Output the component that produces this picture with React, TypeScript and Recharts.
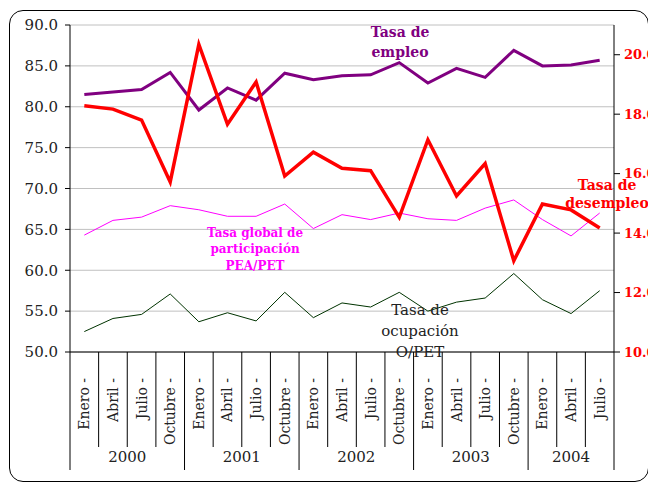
import { CartesianGrid, Line, LineChart, XAxis, YAxis } from "recharts";

const months = [
  "Enero -", "Abril -", "Julio -", "Octubre -",
  "Enero -", "Abril -", "Julio -", "Octubre -",
  "Enero -", "Abril -", "Julio -", "Octubre -",
  "Enero -", "Abril -", "Julio -", "Octubre -",
  "Enero -", "Abril -", "Julio -",
];
const years = [
  "2000", "2000", "2000", "2000",
  "2001", "2001", "2001", "2001",
  "2002", "2002", "2002", "2002",
  "2003", "2003", "2003", "2003",
  "2004", "2004", "2004",
];

// tasa de empleo (eje izquierdo)
const empleo = [81.5, 81.8, 82.1, 84.2, 79.6, 82.3, 80.8, 84.1, 83.3, 83.8, 83.9, 85.4, 82.9, 84.7, 83.6, 86.9, 85.0, 85.1, 85.7];
// tasa de desempleo (eje derecho)
const desempleo = [18.28, 18.17, 17.8, 15.72, 20.35, 17.66, 19.08, 15.92, 16.72, 16.18, 16.1, 14.53, 17.14, 15.25, 16.34, 13.07, 14.98, 14.78, 14.17];
// PEA/PET
const participacion = [64.3, 66.1, 66.5, 67.9, 67.4, 66.6, 66.6, 68.1, 65.1, 66.8, 66.2, 67.0, 66.3, 66.1, 67.6, 68.6, 66.2, 64.2, 67.0];
// O/PET
const ocupacion = [52.5, 54.1, 54.6, 57.1, 53.7, 54.8, 53.8, 57.3, 54.2, 56.0, 55.5, 57.3, 55.0, 56.1, 56.6, 59.6, 56.4, 54.7, 57.5];

const leftTicks = [50, 55, 60, 65, 70, 75, 80, 85, 90];
const rightTicks = [10, 12, 14, 16, 18, 20];

const data = months.map((month, i) => ({
  key: `${month}${years[i]}`,
  month,
  year: years[i],
  empleo: empleo[i],
  desempleo: desempleo[i],
  participacion: participacion[i],
  ocupacion: ocupacion[i],
}));

const font = "'DejaVu Serif', serif";

const MonthTick = (props: any) => {
  const { x, y, payload } = props;
  const i = payload.index;
  const half = payload.offset || 14.3;
  const row = data[i];
  const first = i === 0 || years[i - 1] !== years[i];
  const last = i === data.length - 1;
  const count = years.filter((yy) => yy === row.year).length;
  return (
    <g>
      <line x1={x - half} x2={x - half} y1={y} y2={first ? y + 118 : y + 95} stroke="#000" />
      {last && <line x1={x + half} x2={x + half} y1={y} y2={y + 118} stroke="#000" />}
      <text
        transform={`translate(${x},${y + 26}) rotate(-90)`}
        textAnchor="end"
        dominantBaseline="central"
        fontSize={14}
        fill="#222"
        fontFamily={font}
      >
        {row.month}
      </text>
      {first && (
        <text
          x={x - half + count * half}
          y={y + 105}
          textAnchor="middle"
          dominantBaseline="central"
          fontSize={15}
          fill="#222"
          fontFamily={font}
        >
          {row.year}
        </text>
      )}
    </g>
  );
};

export default function App() {
  return (
    <div style={{ position: "absolute", left: 0, top: 0, width: 648, height: 482, background: "#fff", overflow: "hidden" }}>
      <div
        style={{
          position: "absolute",
          left: 9,
          top: 10,
          width: 640,
          height: 472,
          border: "1.5px solid #000",
          borderRadius: 14,
          boxSizing: "border-box",
        }}
      />
      <LineChart
        width={648}
        height={482}
        data={data}
        margin={{ top: 25, right: 0, bottom: 0, left: 10 }}
        style={{ position: "absolute", left: 0, top: 0, fontFamily: font }}
      >
        <CartesianGrid yAxisId="left" vertical={false} stroke="#c0c0c0" />
        <XAxis
          dataKey="key"
          scale="band"
          interval={0}
          height={130}
          tickSize={0}
          tickMargin={0}
          tickLine={false}
          axisLine={{ stroke: "#000" }}
          tick={<MonthTick />}
        />
        <YAxis
          yAxisId="left"
          domain={[50, 90]}
          ticks={leftTicks}
          width={60}
          tickSize={5}
          tickMargin={7}
          axisLine={{ stroke: "#000" }}
          tickLine={{ stroke: "#000" }}
          tickFormatter={(v: number) => v.toFixed(1)}
          tick={{ fill: "#222", fontSize: 15, fontFamily: font }}
        />
        <YAxis
          yAxisId="right"
          orientation="right"
          domain={[10, 21]}
          ticks={rightTicks}
          allowDataOverflow
          width={34}
          tickSize={6}
          tickMargin={4}
          axisLine={{ stroke: "#000" }}
          tickLine={{ stroke: "#000" }}
          tickFormatter={(v: number) => v.toFixed(1)}
          tick={{ fill: "#ff0000", fontSize: 13, fontWeight: "bold", fontFamily: font, textAnchor: "start" }}
        />
        <Line yAxisId="left" dataKey="ocupacion" stroke="#003300" strokeWidth={1} dot={false} isAnimationActive={false} />
        <Line yAxisId="left" dataKey="participacion" stroke="#ff00ff" strokeWidth={1} dot={false} isAnimationActive={false} />
        <Line yAxisId="left" dataKey="empleo" stroke="#800080" strokeWidth={3} dot={false} isAnimationActive={false} />
        <Line yAxisId="right" dataKey="desempleo" stroke="#ff0000" strokeWidth={3.5} dot={false} isAnimationActive={false} />
      </LineChart>
      <svg width={648} height={482} style={{ position: "absolute", left: 0, top: 0, pointerEvents: "none" }}>
        <g fontFamily={font} textAnchor="middle" dominantBaseline="central">
          <text x={400} y={32} fontSize={14} fontWeight="bold" fill="#800080">Tasa de</text>
          <text x={400} y={52} fontSize={14} fontWeight="bold" fill="#800080">empleo</text>
          <text x={255} y={233} fontSize={12} fontWeight="bold" fill="#ff00ff">Tasa global de</text>
          <text x={255} y={249} fontSize={12} fontWeight="bold" fill="#ff00ff">participación</text>
          <text x={255} y={266} fontSize={12} fontWeight="bold" fill="#ff00ff">PEA/PET</text>
          <text x={420} y={310} fontSize={15} fill="#222">Tasa de</text>
          <text x={420} y={331} fontSize={15} fill="#222">ocupación</text>
          <text x={420} y={352} fontSize={15} fill="#222">O/PET</text>
          <text x={607} y={185} fontSize={14} fontWeight="bold" fill="#ff0000">Tasa de</text>
          <text x={607} y={203} fontSize={14} fontWeight="bold" fill="#ff0000">desempleo</text>
        </g>
      </svg>
    </div>
  );
}
